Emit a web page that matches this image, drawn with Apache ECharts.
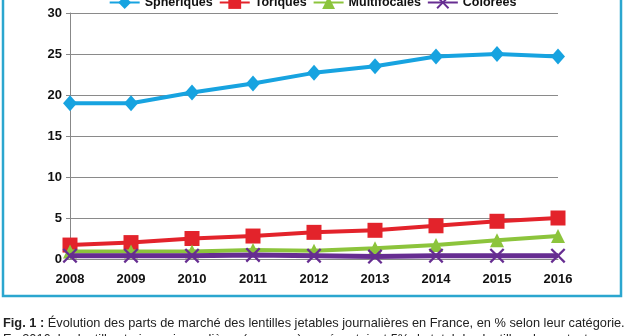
<!DOCTYPE html>
<html><head><meta charset="utf-8">
<script src="https://cdn.jsdelivr.net/npm/echarts@6/dist/echarts.min.js"></script>
<style>html,body{margin:0;padding:0;background:#fff}#c{width:625px;height:336px}</style>
</head><body><div id="c"></div>
<script>
const years = ['2008','2009','2010','2011','2012','2013','2014','2015','2016'];
const spheriques = [19.0, 19.0, 20.3, 21.4, 22.7, 23.5, 24.7, 25.0, 24.7];
const toriques = [1.7, 2.0, 2.5, 2.8, 3.25, 3.5, 4.05, 4.6, 5.0];
const multifocales = [0.9, 0.9, 0.9, 1.1, 1.0, 1.3, 1.7, 2.3, 2.8];
const colorees = [0.4, 0.4, 0.4, 0.5, 0.4, 0.3, 0.4, 0.4, 0.4];
const yTicks = [0, 5, 10, 15, 20, 25, 30];
const caption1 = 'Évolution des parts de marché des lentilles jetables journalières en France, en % selon leur catégorie.';
const caption2 = 'En 2016, les lentilles toriques journalières (en rouge) représentaient 5% du total des lentilles de contact';

const crossPath = 'path://M1.5,0 L7,5.5 L12.5,0 L14,1.5 L8.5,7 L14,12.5 L12.5,14 L7,8.5 L1.5,14 L0,12.5 L5.5,7 L0,1.5 Z';
const font = 'Liberation Sans';
const chart = echarts.init(document.getElementById('c'), null, {renderer:'canvas'});
function mk(name, data, color, symbol, size, z, lw){
  return {name, type:'line', data, symbol, symbolSize:size, showAllSymbol:true,
    lineStyle:{color, width:lw}, itemStyle:{color}, z, animation:false};
}
chart.setOption({
  animation:false,
  backgroundColor:'#fff',
  legend:{top:-9, left:'center', itemWidth:30, itemHeight:16, itemGap:6,
    textStyle:{fontFamily:font, fontWeight:'bold', fontSize:12.5, color:'#111'},
    data:['Sphériques','Toriques','Multifocales','Colorées']},
  grid:{left:70, right:67, top:13, bottom:77},
  xAxis:{type:'category', data:years, boundaryGap:false,
    axisLine:{lineStyle:{color:'#888', width:1}},
    axisTick:{show:false},
    axisLabel:{fontFamily:font, fontWeight:'bold', fontSize:13, color:'#111', margin:14}},
  yAxis:{type:'value', min:yTicks[0], max:yTicks[yTicks.length-1], interval:5,
    axisLine:{show:true, lineStyle:{color:'#888', width:1}},
    axisTick:{show:true, length:4, lineStyle:{color:'#888'}},
    splitLine:{lineStyle:{color:'#8a8a8a', width:1}},
    axisLabel:{fontFamily:font, fontWeight:'bold', fontSize:13, color:'#111', margin:8}},
  series:[
    mk('Sphériques', spheriques, '#17a3e0', 'diamond', [14,16], 5, 4),
    mk('Toriques', toriques, '#e3232b', 'rect', 15, 4, 4),
    mk('Multifocales', multifocales, '#8cc43c', 'triangle', 14, 6, 4),
    mk('Colorées', colorees, '#662d91', crossPath, 15, 7, 5)
  ],
  graphic:[
    {type:'rect', shape:{x:3, y:-10, width:618, height:306}, style:{fill:'none', stroke:'#2ba6cf', lineWidth:2.5}, z:100},
    {type:'text', x:3, y:317, style:{text:'{b|Fig. 1 :} ' + caption1, font:'12.8px ' + font, fill:'#222',
      rich:{b:{fontWeight:'bold', fontFamily:font, fontSize:12.8, fill:'#222'}}}},
    {type:'text', x:3, y:333, style:{text:caption2, font:'12.8px ' + font, fill:'#222'}}
  ]
});
</script></body></html>
